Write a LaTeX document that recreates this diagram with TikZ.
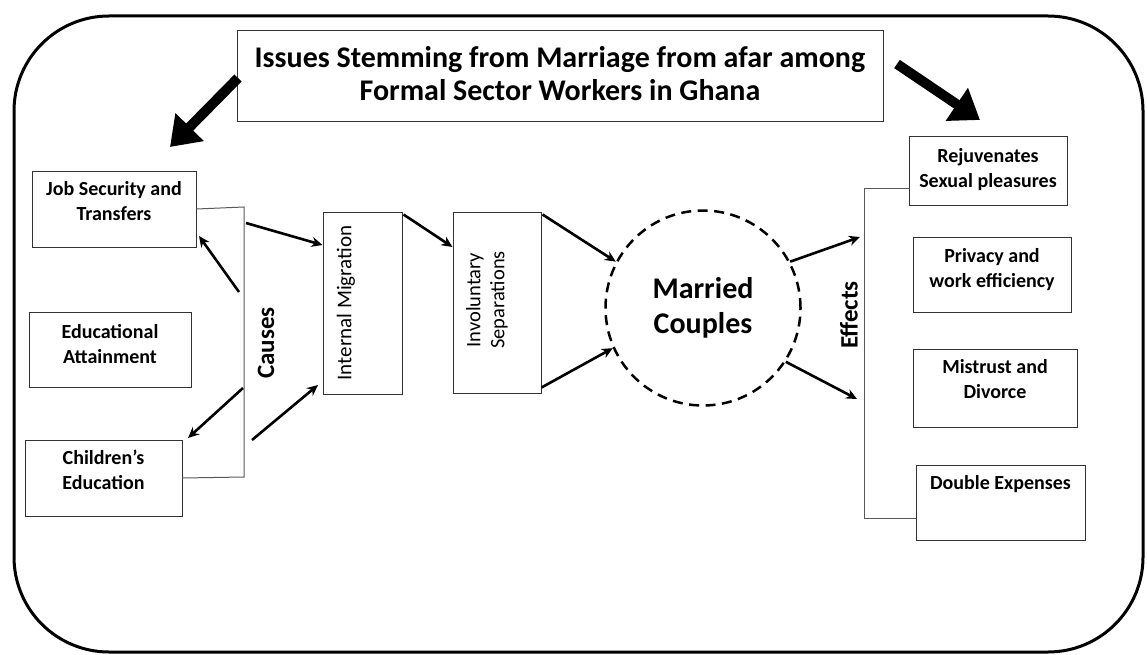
\documentclass[tikz,border=0pt]{standalone}
\usepackage{fontspec}
\setmainfont{Carlito}
\usetikzlibrary{arrows.meta}
\begin{document}
\begin{tikzpicture}[x=1pt,y=-1pt,
  cbox/.style={draw=black!80,line width=1pt,minimum width=#1,inner sep=0pt},
  lbl/.style={font=\bfseries\fontsize{20}{25}\selectfont,align=center,inner sep=0pt,anchor=north},
  conn/.style={line width=2.6pt,-{Stealth[length=11pt,width=10pt]}},
  big/.style={line width=10pt,-{Triangle[length=28pt,width=38pt]}},
  brk/.style={draw=black!65,line width=1pt},
  side/.style={font=\bfseries\fontsize{25}{28}\selectfont,rotate=90,inner sep=0pt}]
\useasboundingbox (0,0) rectangle (1147,655);
% outer frame
\draw[line width=3pt,rounded corners=95pt] (14,16) rectangle (1143,652);
% title
\node (title) [draw=black!80,line width=1pt,minimum width=646pt,minimum height=91pt,inner sep=0pt] at (560,76.5) {};
\node (titleT) [font=\bfseries\fontsize{30}{33}\selectfont,align=center,inner sep=0pt] at (560,73.5)
  {Issues Stemming from Marriage from afar among\\Formal Sector Workers in Ghana};
\coordinate (tl) at (238,78);
\coordinate (tlE) at (170,147);
\coordinate (tr) at (897,64);
\coordinate (trE) at (980,120);
\draw[big] (tl) -- (tlE);
\draw[big] (tr) -- (trE);
% cause boxes
\node (job) [cbox=164pt,minimum height=75pt] at (114,209.5) {};
\node (jobT) [lbl] at ([yshift=-10pt]job.north) {Job Security and\\Transfers};
\node (edu) [cbox=162pt,minimum height=75pt] at (110,349.5) {};
\node (eduT) [lbl] at ([yshift=-13pt]edu.north) {Educational\\Attainment};
\node (chi) [cbox=157pt,minimum height=76pt] at (103.5,478) {};
\node (chiT) [lbl] at ([yshift=-10pt]chi.north) {Children’s\\Education};
% causes bracket
\coordinate (cbT) at (244,207);
\coordinate (cbB) at (244,477);
\draw[brk] (job.east |- 0,209) -- (cbT) -- (cbB) -- (chi.east |- 0,478);
\node (causes) [side] at (266,343) {Causes};
% middle boxes
\node (mig) [cbox=79pt,minimum height=182pt] at (362.5,303) {};
\node (migT) [font=\fontsize{21}{24}\selectfont,rotate=90,inner sep=0pt] at (346,303) {Internal Migration};
\node (inv) [cbox=88pt,minimum height=181pt] at (497,302.5) {};
\node (invT) [font=\fontsize{20.5}{24}\selectfont,rotate=90,inner sep=0pt,align=center] at (487,300) {Involuntary\\Separations};
% causes arrows
\coordinate (c1) at (239,292);
\coordinate (c2) at (246,223);
\coordinate (c3) at (243,388);
\coordinate (c4) at (252,440);
\draw[conn] (c1) -- (199,236);
\draw[conn] (c2) -- (mig.west |- 0,245);
\draw[conn] (c3) -- (188,438);
\draw[conn] (c4) -- (318,385);
\draw[conn] (mig.north east) ++(1,3) -- (inv.west |- 0,247);
% circle
\node (mc) [circle,draw,dashed,dash pattern=on 10pt off 6.5pt,line width=2.5pt,minimum size=195pt,inner sep=0pt,
  font=\bfseries\fontsize{30}{35}\selectfont,align=center] at (703,308) {Married\\Couples};
\draw[conn] (inv.north east) ++(1,3) -- (mc.152);
\draw[conn] (inv.south east) ++(0,-6) -- (mc.204);
\draw[conn] (mc.28) -- (860,237);
\draw[conn] (mc.-33) -- (857,399);
% effects bracket
\coordinate (ebT) at (864,188);
\coordinate (ebB) at (864,518);
\node (effects) [side] at (849,315) {Effects};
% effect boxes
\node (rej) [cbox=158pt,minimum height=68pt] at (988,171) {};
\node (rejT) [lbl] at ([yshift=-12pt]rej.north) {Rejuvenates\\Sexual pleasures};
\node (pri) [cbox=158pt,minimum height=75pt] at (992,274.5) {};
\node (priT) [lbl] at ([yshift=-12pt]pri.north) {Privacy and\\work efficiency};
\node (mis) [cbox=164pt,minimum height=78pt] at (995,388) {};
\node (misT) [lbl] at ([yshift=-11pt]mis.north) {Mistrust and\\Divorce};
\node (dbl) [cbox=169pt,minimum height=75pt] at (1000.5,502.5) {};
\node (dblT) [lbl] at ([yshift=-11pt]dbl.north) {Double Expenses};
\draw[brk] (rej.west |- 0,188) -- (ebT) -- (ebB) -- (dbl.west |- 0,518);
\end{tikzpicture}
\end{document}
